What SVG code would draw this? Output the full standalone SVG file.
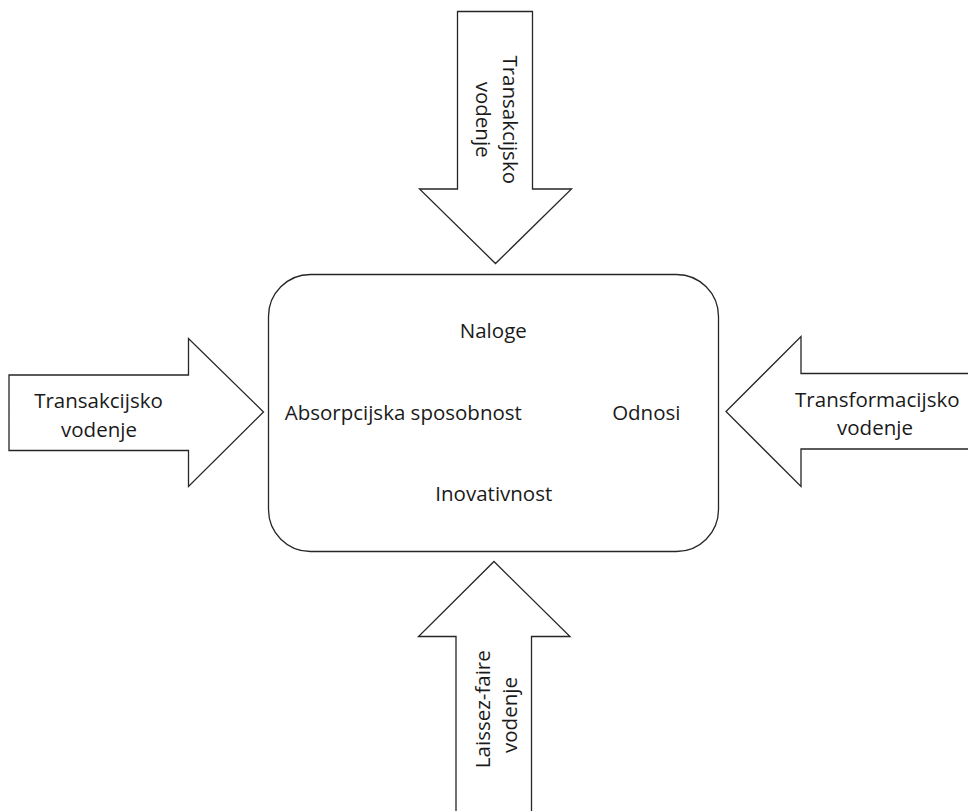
<svg xmlns="http://www.w3.org/2000/svg" width="968" height="811" viewBox="0 0 968 811">
  <style>
    .shape { fill: #ffffff; stroke: #262626; stroke-width: 1.3; stroke-linejoin: miter; }
    .lbl { font-family: "Open Sans", "Noto Sans", "DejaVu Sans", sans-serif; font-size: 20.5px; fill: #1a1a1a; text-anchor: middle; }
  </style>
  <rect x="0" y="0" width="968" height="811" fill="#ffffff"/>

  <g id="arrow-top">
    <polygon class="shape" points="457.5,11.5 532.5,11.5 532.5,189 571.5,189 495.5,263.5 419.5,189 457.5,189"/>
    <text class="lbl" x="503.3" y="119.7" transform="rotate(90 503.3 119.7)">Transakcijsko</text>
    <text class="lbl" x="476" y="119.7" transform="rotate(90 476 119.7)">vodenje</text>
  </g>

  <g id="arrow-left">
    <polygon class="shape" points="9,375 188.5,375 188.5,338.5 263.5,412 188.5,486.5 188.5,450.5 9,450.5"/>
    <text class="lbl" x="98.5" y="408">Transakcijsko</text>
    <text class="lbl" x="99" y="436.7">vodenje</text>
  </g>

  <g id="arrow-right">
    <path class="shape" d="M968,373.5 H801 V336.5 L726,411.5 L801,486.5 V449 H968"/>
    <text class="lbl" x="877.3" y="406.7">Transformacijsko</text>
    <text class="lbl" x="875" y="435">vodenje</text>
  </g>

  <g id="arrow-bottom">
    <path class="shape" d="M456,812 V636.5 H418.5 L494,561.5 L570,636.5 H531.5 V812"/>
    <text class="lbl" x="490" y="709.2" transform="rotate(-90 490 709.2)">Laissez-faire</text>
    <text class="lbl" x="517.3" y="715" transform="rotate(-90 517.3 715)">vodenje</text>
  </g>

  <g id="center-box">
    <rect class="shape" x="268.5" y="274.5" width="450" height="277" rx="42" ry="42"/>
    <text class="lbl" x="493.3" y="338.3">Naloge</text>
    <text class="lbl" x="403.3" y="420">Absorpcijska sposobnost</text>
    <text class="lbl" x="646.3" y="420">Odnosi</text>
    <text class="lbl" x="493.8" y="501">Inovativnost</text>
  </g>
</svg>
